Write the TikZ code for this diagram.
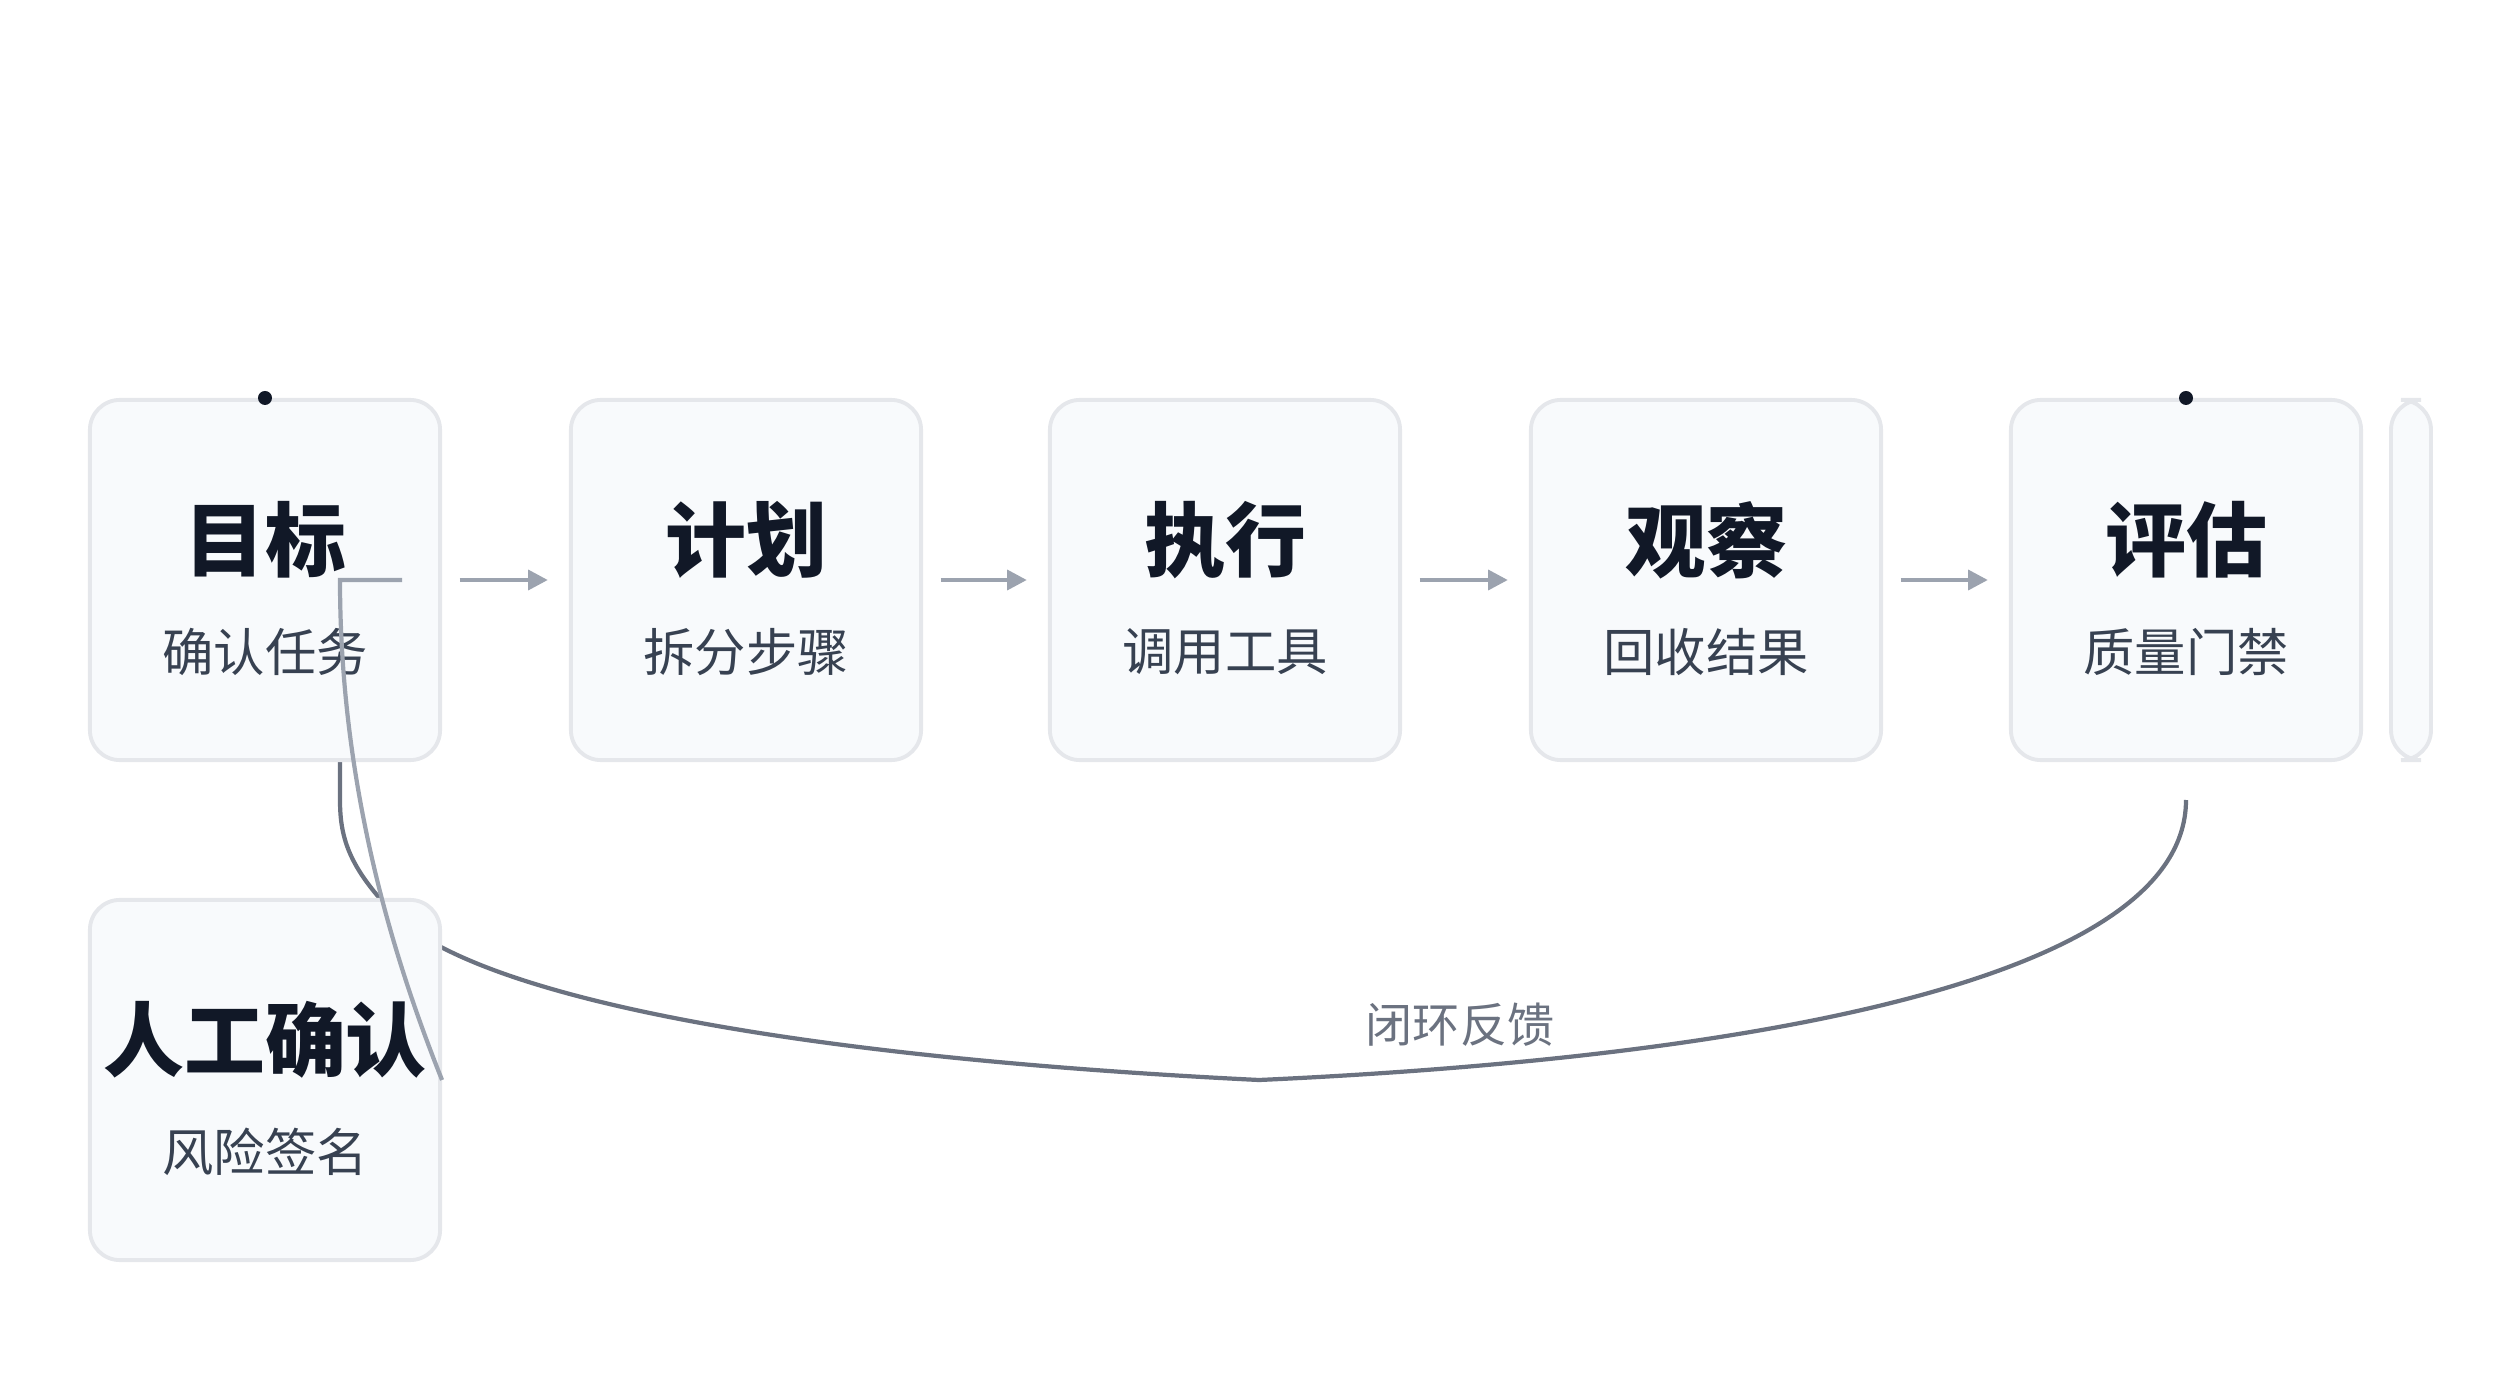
\documentclass[tikz,border=0pt]{standalone}
\usepackage{fontspec}
\setmainfont{Noto Sans CJK SC}
\usetikzlibrary{arrows.meta,calc}
\definecolor{boxfill}{HTML}{F8FAFC}
\definecolor{boxline}{HTML}{E5E7EB}
\definecolor{titlecol}{HTML}{111827}
\definecolor{subcol}{HTML}{374151}
\definecolor{flowcol}{HTML}{9CA3AF}
\definecolor{loopcol}{HTML}{6B7280}
\tikzset{
  stagebox/.style={draw=boxline, line width=1.1pt, fill=boxfill, rounded corners=0.3cm,
    minimum width=3.5cm, minimum height=3.6cm, inner sep=0pt},
  stagetitle/.style={text=titlecol, font=\fontsize{23}{26}\selectfont\bfseries},
  stagesub/.style={text=subcol, font=\fontsize{14.6}{17}\selectfont},
  flow/.style={draw=flowcol, line width=1.2pt, -{Triangle[length=5.6pt,width=5.6pt]}},
  loopline/.style={draw=loopcol, line width=1.2pt}
}

\begin{document}
\begin{tikzpicture}[x=0.01cm, y=-0.01cm]
    \useasboundingbox (0,0) rectangle (2520,1400);

    % feedback loop, drawn first so that the lower box covers it
    \coordinate (loopend) at (1259,1080);
    \draw[loopline, -{Triangle[length=5.6pt,width=5.6pt]}]
      (2186,800) .. controls (2186,990) and (1700,1060) .. (loopend)
      .. controls (750,1055) and (480,990) .. (400,920)
      .. controls (350,870) and (340,840) .. (340,800) -- (340,655);
    \node[text=loopcol, font=\fontsize{13.4}{16}\selectfont] (looplabel) at (1460,1025) {闭环反馈};

    % stages
    \foreach \n/\x/\t/\s in {1/265/目标/确认任务, 2/746/计划/拆分步骤, 3/1225/执行/调用工具,
                              4/1706/观察/回收结果, 5/2186/评估/质量门禁}{
      \node[stagebox] (s\n) at (\x,580) {};
      \node[stagetitle] (s\n t) at ($(s\n.center)+(0,-40)$) {\t};
      \node[stagesub] (s\n s) at ($(s\n.center)+(0,72)$) {\s};
    }
    \node[stagebox, minimum width=0.4cm] (s6) at (2411,580) {};

    \node[stagebox] (gate) at (265,1080) {};
    \node[stagetitle] (gatet) at ($(gate.center)+(0,-40)$) {人工确认};
    \node[stagesub] (gates) at ($(gate.center)+(0,72)$) {风险签名};

    \foreach \a/\b in {1/2, 2/3, 3/4, 4/5}{
      \draw[flow, shorten <=5pt, shorten >=6pt] (s\a.east) -- (s\b.west);
    }

    % link from the first stage down to the manual check
    \coordinate (gatein) at (402,580);
    \draw[draw=flowcol, line width=1.2pt]
      (gatein) -- (340,580) .. controls (340,780) and (390,950) .. (gate.east);

    \fill[titlecol] (s1.north) circle (7);
    \fill[titlecol] (s5.north) circle (7);
  \end{tikzpicture}
\end{document}
